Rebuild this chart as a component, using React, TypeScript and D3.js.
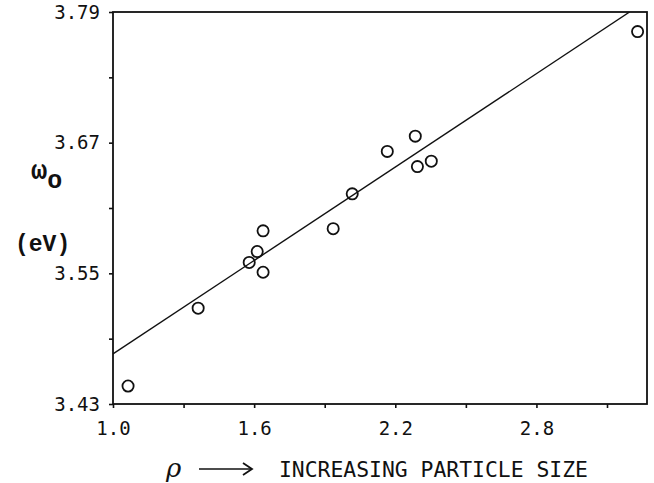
import React, { useEffect, useRef } from 'react'
import * as d3 from 'd3'

// measured points (particle size ratio vs plasmon energy)
const sizeValues = [1.064, 1.362, 1.579, 1.613, 1.638, 1.638, 1.936, 2.017, 2.166, 2.285, 2.294, 2.353, 3.23]
const omegaValues = [3.4465, 3.518, 3.56, 3.57, 3.589, 3.551, 3.591, 3.623, 3.662, 3.676, 3.648, 3.653, 3.772]

// least squares line, two ends
const fitX = [1.0, 3.196]
const fitY = [3.476, 3.79]

const xTicks = [1.0, 1.3, 1.6, 1.9, 2.2, 2.5, 2.8, 3.1]
const xLabels = ['1.0', '1.6', '2.2', '2.8']
const yTicks = [3.43, 3.49, 3.55, 3.61, 3.67, 3.73, 3.79]
const yLabels = ['3.43', '3.55', '3.67', '3.79']

const width = 654
const height = 483
const margin = { top: 12, right: 7, bottom: 79, left: 113 }

const App: React.FC = () => {
  const svgRef = useRef<SVGSVGElement>(null)

  useEffect(() => {
    if (!svgRef.current) return
    const svg = d3.select(svgRef.current)
    svg.selectAll('*').remove()

    const xScale = d3
      .scaleLinear()
      .domain([1.0, 3.27])
      .range([margin.left, width - margin.right])

    const yScale = d3
      .scaleLinear()
      .domain([3.43, 3.79])
      .range([height - margin.bottom, margin.top])

    const plotW = width - margin.left - margin.right
    const plotH = height - margin.top - margin.bottom

    svg
      .append('defs')
      .append('clipPath')
      .attr('id', 'plot-clip')
      .append('rect')
      .attr('x', margin.left)
      .attr('y', margin.top)
      .attr('width', plotW)
      .attr('height', plotH)

    // axes (only every other tick carries a label)
    const xAxis = d3
      .axisBottom(xScale)
      .tickValues(xTicks)
      .tickSize(4)
      .tickPadding(14)
      .tickFormat((d) => {
        const s = (d as number).toFixed(1)
        return xLabels.includes(s) ? s : ''
      })

    const yAxis = d3
      .axisLeft(yScale)
      .tickValues(yTicks)
      .tickSize(4)
      .tickPadding(9)
      .tickFormat((d) => {
        const s = (d as number).toFixed(2)
        return yLabels.includes(s) ? s : ''
      })

    const gx = svg
      .append('g')
      .attr('transform', `translate(0, ${height - margin.bottom})`)
      .call(xAxis)
    const gy = svg
      .append('g')
      .attr('transform', `translate(${margin.left}, 0)`)
      .call(yAxis)

    ;[gx, gy].forEach((g) => {
      g.select('.domain').remove()
      g.selectAll('.tick line').attr('stroke', '#111').attr('stroke-width', 1.6)
      g.selectAll('.tick text')
        .attr('fill', '#111')
        .style('font-family', '"DejaVu Sans Mono", monospace')
        .style('font-size', '19px')
    })

    // frame
    svg
      .append('rect')
      .attr('x', margin.left)
      .attr('y', margin.top)
      .attr('width', plotW)
      .attr('height', plotH)
      .attr('fill', 'none')
      .attr('stroke', '#111')
      .attr('stroke-width', 1.8)

    // fit line
    const line = d3
      .line<number>()
      .x((d) => xScale(d))
      .y((d, i) => yScale(fitY[i]))
    svg
      .append('path')
      .datum(fitX)
      .attr('clip-path', 'url(#plot-clip)')
      .attr('d', line)
      .attr('fill', 'none')
      .attr('stroke', '#111')
      .attr('stroke-width', 1.4)

    // points
    svg
      .selectAll('.pt')
      .data(sizeValues)
      .enter()
      .append('circle')
      .attr('class', 'pt')
      .attr('cx', (d) => xScale(d))
      .attr('cy', (d, i) => yScale(omegaValues[i]))
      .attr('r', 5.6)
      .attr('fill', 'none')
      .attr('stroke', '#111')
      .attr('stroke-width', 1.8)

    // y axis title
    const wo = svg
      .append('text')
      .attr('x', 31)
      .attr('y', 179)
      .attr('fill', '#111')
      .style('font-family', '"Liberation Mono", monospace')
      .style('font-weight', 'bold')
    wo.append('tspan').style('font-size', '27px').text('ω')
    wo.append('tspan')
      .attr('dy', 9)
      .attr('dx', 0)
      .style('font-size', '25px')
      .text('o')

    svg
      .append('text')
      .attr('x', 15)
      .attr('y', 251)
      .attr('fill', '#111')
      .style('font-family', '"Liberation Mono", monospace')
      .style('font-weight', 'bold')
      .style('font-size', '23px')
      .text('(eV)')

    // x axis title
    svg
      .append('text')
      .attr('x', 166)
      .attr('y', 477)
      .attr('fill', '#111')
      .style('font-family', '"DejaVu Serif", serif')
      .style('font-style', 'italic')
      .style('font-size', '26px')
      .text('ρ')

    const arrowY = 469
    svg
      .append('line')
      .attr('x1', 199)
      .attr('x2', 251)
      .attr('y1', arrowY)
      .attr('y2', arrowY)
      .attr('stroke', '#111')
      .attr('stroke-width', 1.6)
    svg
      .append('path')
      .attr('d', `M243,${arrowY - 6} L252,${arrowY} L243,${arrowY + 6}`)
      .attr('fill', 'none')
      .attr('stroke', '#111')
      .attr('stroke-width', 1.8)

    svg
      .append('text')
      .attr('x', 279)
      .attr('y', 477)
      .attr('fill', '#111')
      .attr('textLength', 309)
      .attr('lengthAdjust', 'spacingAndGlyphs')
      .style('font-family', '"DejaVu Sans Mono", monospace')
      .style('font-size', '21px')
      .text('INCREASING PARTICLE SIZE')
  }, [])

  return (
    <svg
      ref={svgRef}
      width={width}
      height={height}
      style={{ position: 'absolute', left: 0, top: 0, background: '#fff' }}
    />
  )
}

export default App
